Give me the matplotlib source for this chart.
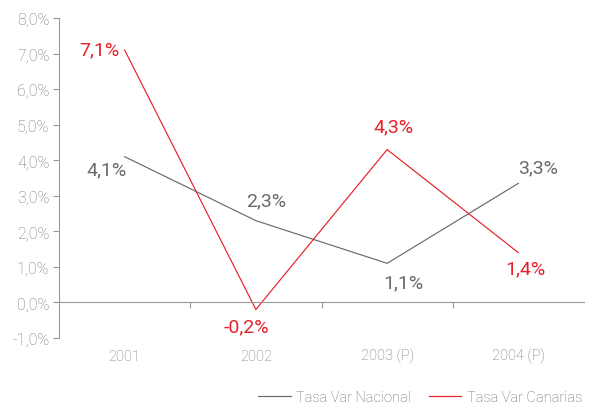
import matplotlib
matplotlib.use("Agg")
import matplotlib.pyplot as plt
from matplotlib.ticker import FuncFormatter

categories = ["2001", "2002", "2003 (P)", "2004 (P)"]
nacional = [4.1, 2.3, 1.1, 3.35]
canarias = [7.1, -0.2, 4.3, 1.4]
nacional_labels = ["4,1%", "2,3%", "1,1%", "3,3%"]
canarias_labels = ["7,1%", "-0,2%", "4,3%", "1,4%"]
yticks = [-1, 0, 1, 2, 3, 4, 5, 6, 7, 8]

GREY = "#6a6a6a"
RED = "#e8202a"
TICKC = "#777777"
plt.rcParams['font.family'] = ['Roboto', 'DejaVu Sans']
plt.rcParams['font.weight'] = 'light'

fig = plt.figure(figsize=(5.95, 4.14), dpi=100)
ax = fig.add_axes([59/595, 1-339/414, (584-59)/595, (339-19)/414])
x = list(range(len(categories)))
ax.plot(x, nacional, color=GREY, lw=0.85, label="Tasa Var Nacional")
ax.plot(x, canarias, color=RED, lw=0.85, label="Tasa Var Canarias")

ax.set_xlim(-0.5, 3.5)
ax.set_ylim(-1, 8)
ax.set_yticks(yticks)
ax.yaxis.set_major_formatter(FuncFormatter(lambda v, p: f"{v:.1f}%".replace(".", ",")))

for s in ["top", "right"]:
    ax.spines[s].set_visible(False)
ax.spines["left"].set_color("#999999")
ax.spines["bottom"].set_color("#999999")
ax.spines["bottom"].set_position(("data", 0))
ax.set_xticks([0.5, 1.5, 2.5])
ax.set_xticklabels([])
ax.tick_params(axis="x", direction="out", length=4, color="#999999")
ax.tick_params(axis="y", direction="out", length=4, color="#999999",
               labelcolor=TICKC, labelsize=11.5, pad=3)

for xi, c in zip(x, categories):
    ax.text(xi, -0.055, c, transform=ax.get_xaxis_transform(), ha="center",
            va="center", fontsize=10.5, color=TICKC)

nac_off = [(-18, -13), (10, 20), (16, -19), (20, 16)]
can_off = [(-25, 1), (-9, -17), (6, 23), (7, -16)]
for xi, v, lab, off in zip(x, nacional, nacional_labels, nac_off):
    ax.annotate(lab, (xi, v), xytext=off, textcoords="offset pixels",
                ha="center", va="center", fontsize=14, color=GREY,
                fontweight="normal")
for xi, v, lab, off in zip(x, canarias, canarias_labels, can_off):
    ax.annotate(lab, (xi, v), xytext=off, textcoords="offset pixels",
                ha="center", va="center", fontsize=14, color=RED,
                fontweight="normal")

fig.legend(loc="lower right", bbox_to_anchor=(1.0, -0.01), ncol=2, frameon=False,
           fontsize=10.5, handlelength=2.2, handletextpad=0.4, columnspacing=1.2,
           labelcolor=GREY)

fig.savefig("out.png", dpi=100)
